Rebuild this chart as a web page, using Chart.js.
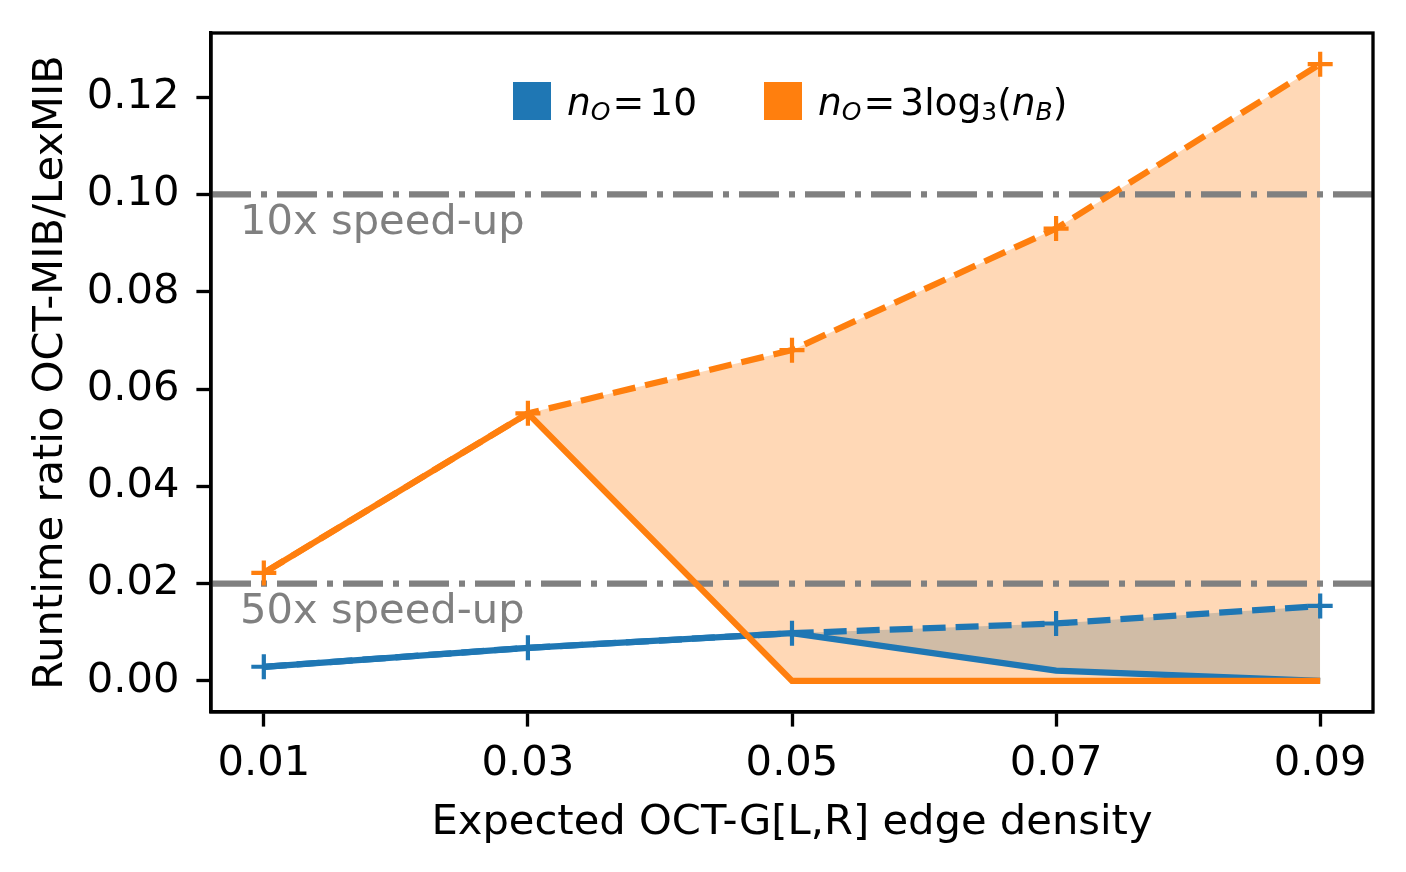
<!DOCTYPE html>
<html lang="en">
<head>
	<meta charset="UTF-8">
	<title>Runtime ratio</title>
	<script src="https://cdn.jsdelivr.net/npm/chart.js@4/dist/chart.umd.min.js"></script>
	<style>
		html, body { margin: 0; padding: 0; background: #fff; }
		#wrap { width: 1406px; height: 872px; }
	</style>
</head>
<body>
	<div id="wrap"><canvas id="ratio-chart"></canvas></div>

	<script>
		// data
		var densities = [0.01, 0.03, 0.05, 0.07, 0.09];
		var xTicks = [0.01, 0.03, 0.05, 0.07, 0.09];
		var yTicks = [0, 0.02, 0.04, 0.06, 0.08, 0.10, 0.12];
		var orangeUpper = [0.0222, 0.0550, 0.0680, 0.0930, 0.1268];
		var orangeLower = [0.0222, 0.0550, 0, 0, 0];
		var blueUpper = [0.0029, 0.0068, 0.0098, 0.0118, 0.0154];
		var blueLower = [0.0029, 0.0068, 0.0098, 0.0021, 0];
		var speedups = [0.10, 0.02];
		var speedupLabels = ["10x speed-up", "50x speed-up"];

		var BLUE = "#1f77b4";
		var ORANGE = "#ff7f0e";
		var FONT = "'DejaVu Sans', sans-serif";
		var FS = 41.67;

		function pts(vals) {
			return densities.map(function (d, i) { return { x: d, y: vals[i] }; });
		}

		var xMin = 0.006, xMax = 0.094;

		var datasets = [
			{ data: pts(orangeLower), borderColor: ORANGE, borderWidth: 6.25, pointRadius: 0, fill: false },
			{ data: pts(orangeUpper), borderColor: ORANGE, borderWidth: 6.25, borderDash: [23, 10],
			  pointStyle: "cross", pointRadius: 12.5, pointBorderWidth: 4.2, pointBorderColor: ORANGE,
			  fill: "-1", backgroundColor: "rgba(255,127,14,0.3)" },
			{ data: pts(blueLower), borderColor: BLUE, borderWidth: 6.25, pointRadius: 0, fill: false },
			{ data: pts(blueUpper), borderColor: BLUE, borderWidth: 6.25, borderDash: [23, 10],
			  pointStyle: "cross", pointRadius: 12.5, pointBorderWidth: 4.2, pointBorderColor: BLUE,
			  fill: "-1", backgroundColor: "rgba(31,119,180,0.3)" }
		];
		speedups.forEach(function (s) {
			datasets.push({ data: [{ x: xMin, y: s }, { x: xMax, y: s }], borderColor: "#808080",
				borderWidth: 6.25, borderDash: [40, 10, 6, 10], pointRadius: 0, fill: false });
		});

		// frame, speed-up labels and the mathtext legend
		var extras = {
			id: "extras",
			afterDatasetsDraw: function (chart) {
				var ctx = chart.ctx, a = chart.chartArea;
				var ys = chart.scales.y, xs = chart.scales.x;
				ctx.save();
				ctx.fillStyle = "#808080";
				ctx.font = FS + "px " + FONT;
				ctx.textBaseline = "middle";
				speedupLabels.forEach(function (t, i) {
					ctx.fillText(t, xs.getPixelForValue(0.0082), ys.getPixelForValue(speedups[i] - 0.0058));
				});
				ctx.strokeStyle = "#000";
				ctx.lineWidth = 3.33;
				ctx.strokeRect(a.left, a.top, a.right - a.left, a.bottom - a.top);

				// legend entries written like mathtext: [text, size, italic, space before, drop]
				ctx.textBaseline = "alphabetic";
				ctx.fillStyle = "#000";
				function put(x, base, parts) {
					parts.forEach(function (p) {
						x += p[3] || 0;
						ctx.font = (p[2] ? "italic " : "") + p[1] + "px " + FONT;
						ctx.fillText(p[0], x, base + (p[4] || 0));
						x += ctx.measureText(p[0]).width;
					});
				}
				put(567, 115, [["n", 37.5, 1], ["O", 25, 1, 0, 5], ["=", 38, 0, 2], ["10", 37.5, 0, 5]]);
				put(818, 115, [["n", 37.5, 1], ["O", 25, 1, 0, 5], ["=", 38, 0, 2], ["3log", 37.5, 0, 5],
					["3", 25, 0, 0, 5], ["(", 37.5, 0], ["n", 37.5, 1], ["B", 25, 1, 0, 5], [")", 37.5, 0]]);
				ctx.fillStyle = BLUE;
				ctx.fillRect(513, 82, 38, 38);
				ctx.fillStyle = ORANGE;
				ctx.fillRect(764, 82, 38, 38);
				ctx.restore();
			}
		};

		new Chart(document.getElementById("ratio-chart"), {
			type: "line",
			data: { datasets: datasets },
			plugins: [extras],
			options: {
				responsive: true,
				maintainAspectRatio: false,
				animation: false,
				layout: { padding: { top: 33, right: 33, left: 0, bottom: 0 } },
				plugins: {
					legend: { display: false },
					tooltip: { enabled: false },
					filler: { drawTime: "beforeDatasetsDraw" }
				},
				scales: {
					x: {
						type: "linear",
						min: xMin,
						max: xMax,
						afterBuildTicks: function (s) { s.ticks = xTicks.map(function (v) { return { value: v }; }); },
						afterFit: function (s) { s.height = 160; s.paddingLeft = 0; s.paddingRight = 0; },
						ticks: {
							color: "#000", font: { family: FONT, size: FS }, padding: 13, maxRotation: 0,
							callback: function (v) { return v.toFixed(2); }
						},
						grid: { drawOnChartArea: false, drawTicks: true, tickLength: 14.6, tickWidth: 3.33, tickColor: "#000" },
						border: { display: true, color: "#000", width: 3.33 },
						title: {
							display: true, text: "Expected OCT-G[L,R] edge density", color: "#000",
							font: { family: FONT, size: FS }, padding: { top: 0, bottom: 24 }
						}
					},
					y: {
						min: -0.0064,
						max: 0.1332,
						afterBuildTicks: function (s) { s.ticks = yTicks.map(function (v) { return { value: v }; }); },
						afterFit: function (s) { s.width = 211; s.paddingTop = 0; s.paddingBottom = 0; },
						ticks: {
							color: "#000", font: { family: FONT, size: FS }, padding: 17,
							callback: function (v) { return v.toFixed(2); }
						},
						grid: { drawOnChartArea: false, drawTicks: true, tickLength: 14.6, tickWidth: 3.33, tickColor: "#000" },
						border: { display: true, color: "#000", width: 3.33 },
						title: {
							display: true, text: "Runtime ratio OCT-MIB/LexMIB", color: "#000",
							font: { family: FONT, size: FS }, padding: { top: 26, bottom: 0 }
						}
					}
				}
			}
		});
	</script>
</body>
</html>
